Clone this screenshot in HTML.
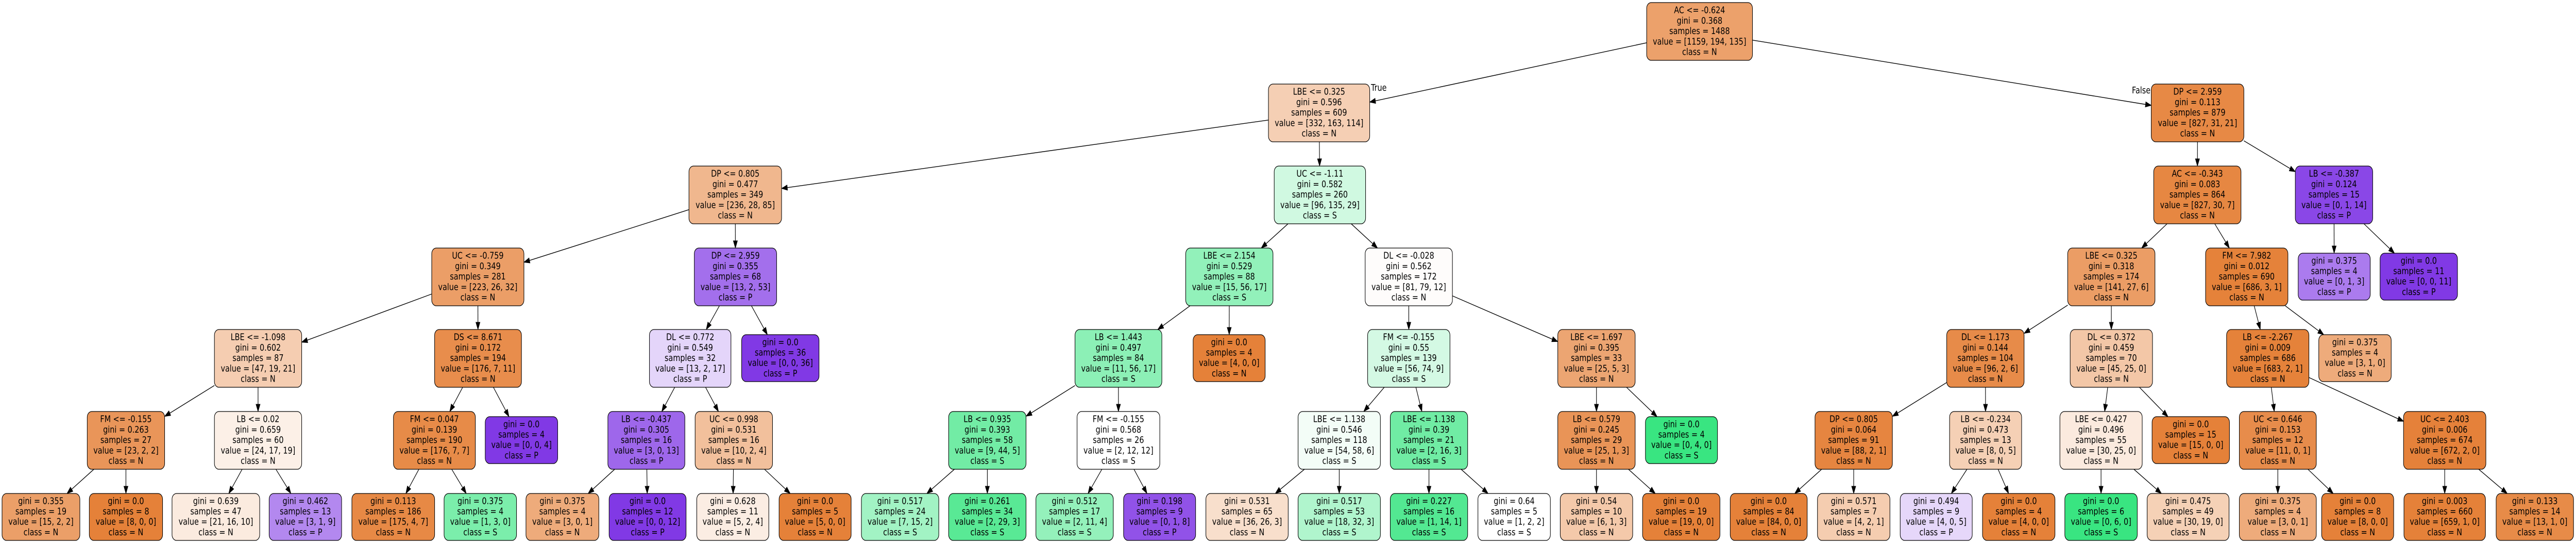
<!DOCTYPE html>
<html><head><meta charset="utf-8"><style>
html,body{margin:0;padding:0;background:#fff;width:100vw;height:100vh;overflow:hidden}
svg{display:block;width:100vw;height:100vh}
text{font-family:"DejaVu Sans","Liberation Sans",sans-serif;font-size:18px;fill:#000}
</style></head><body>
<svg id="s" xmlns="http://www.w3.org/2000/svg" viewBox="0 0 6259 1053" preserveAspectRatio="none">
<text x="3331" y="176">True</text>
<text x="5180" y="181">False</text>
</svg>
<script>
const N = [
['r',null,4001,4258,0,'AC <= -0.624','0.368',1488,[1159,194,135]],
['A','r',3082,3328,1,'LBE <= 0.325','0.596',609,[332,163,114]],
['B','r',5227,5452,1,'DP <= 2.959','0.113',879,[827,31,21]],
['A1','A',1674,1899,2,'DP <= 0.805','0.477',349,[236,28,85]],
['A2','A',3096,3318,2,'UC <= -1.11','0.582',260,[96,135,29]],
['A1a','A1',1049,1273,3,'UC <= -0.759','0.349',281,[223,26,32]],
['A1b','A1',1687,1887,3,'DP <= 2.959','0.355',68,[13,2,53]],
['c1','A1a',521,733,4,'LBE <= -1.098','0.602',87,[47,19,21]],
['c2','A1a',1056,1267,4,'DS <= 8.671','0.172',194,[176,7,11]],
['d1','c1',212,400,5,'FM <= -0.155','0.263',27,[23,2,2]],
['d2','c1',521,733,5,'LB <= 0.02','0.659',60,[24,17,19]],
['l1','d1',5,194,6,null,'0.355',19,[15,2,2]],
['l2','d1',217,395,6,null,'0.0',8,[8,0,0]],
['l3','d2',418,631,6,null,'0.639',47,[21,16,10]],
['l4','d2',654,830,6,null,'0.462',13,[3,1,9]],
['d3','c2',956,1155,5,'FM <= 0.047','0.139',190,[176,7,7]],
['l5','c2',1179,1355,5,null,'0.0',4,[0,0,4]],
['l6','d3',855,1056,6,null,'0.113',186,[175,4,7]],
['l7','d3',1079,1255,6,null,'0.375',4,[1,3,0]],
['c3','A1b',1578,1776,4,'DL <= 0.772','0.549',32,[13,2,17]],
['l8','A1b',1802,1990,4,null,'0.0',36,[0,0,36]],
['d4','c3',1477,1664,5,'LB <= -0.437','0.305',16,[3,0,13]],
['d5','c3',1689,1877,5,'UC <= 0.998','0.531',16,[10,2,4]],
['l9','d4',1278,1455,6,null,'0.375',4,[3,0,1]],
['l10','d4',1480,1667,6,null,'0.0',12,[0,0,12]],
['l11','d5',1693,1868,6,null,'0.628',11,[5,2,4]],
['l12','d5',1893,2068,6,null,'0.0',5,[5,0,0]],
['e1','A2',2881,3093,3,'LBE <= 2.154','0.529',88,[15,56,17]],
['e2','A2',3317,3529,3,'DL <= -0.028','0.562',172,[81,79,12]],
['f1','e1',2612,2823,4,'LB <= 1.443','0.497',84,[11,56,17]],
['l13','e1',2899,3074,4,null,'0.0',4,[4,0,0]],
['g1','f1',2305,2493,5,'LB <= 0.935','0.393',58,[9,44,5]],
['g2','f1',2617,2818,5,'FM <= -0.155','0.568',26,[2,12,12]],
['l14','g1',2093,2281,6,null,'0.517',24,[7,15,2]],
['l15','g1',2305,2493,6,null,'0.261',34,[2,29,3]],
['l16','g2',2517,2705,6,null,'0.512',17,[2,11,4]],
['l17','g2',2730,2905,6,null,'0.198',9,[0,1,8]],
['f2','e2',3323,3523,4,'FM <= -0.155','0.55',139,[56,74,9]],
['f3','e2',3785,3973,4,'LBE <= 1.697','0.395',33,[25,5,3]],
['g3','f2',3154,3354,5,'LBE <= 1.138','0.546',118,[54,58,6]],
['g4','f2',3378,3566,5,'LBE <= 1.138','0.39',21,[2,16,3]],
['l18','g3',2930,3130,6,null,'0.531',65,[36,26,3]],
['l19','g3',3154,3354,6,null,'0.517',53,[18,32,3]],
['l20','g4',3378,3566,6,null,'0.227',16,[1,14,1]],
['l21','g4',3591,3767,6,null,'0.64',5,[1,2,2]],
['g5','f3',3785,3973,5,'LB <= 0.579','0.245',29,[25,1,3]],
['l22','f3',3998,4173,5,null,'0.0',4,[0,4,0]],
['l23','g5',3791,3967,6,null,'0.54',10,[6,1,3]],
['l24','g5',3991,4179,6,null,'0.0',19,[19,0,0]],
['h1','B',5233,5445,2,'AC <= -0.343','0.083',864,[827,30,7]],
['h2','B',5577,5765,2,'LB <= -0.387','0.124',15,[0,1,14]],
['l25','h2',5584,5759,3,null,'0.375',4,[0,1,3]],
['l26','h2',5783,5971,3,null,'0.0',11,[0,0,11]],
['i1','h1',5024,5236,3,'LBE <= 0.325','0.318',174,[141,27,6]],
['i2','h1',5359,5559,3,'FM <= 7.982','0.012',690,[686,3,1]],
['j1','i1',4730,4918,4,'DL <= 1.173','0.144',104,[96,2,6]],
['j2','i1',5030,5230,4,'DL <= 0.372','0.459',70,[45,25,0]],
['j3','i2',5410,5610,4,'LB <= -2.267','0.009',686,[683,2,1]],
['l27','i2',5634,5810,4,null,'0.375',4,[3,1,0]],
['k1','j1',4410,4598,5,'DP <= 0.805','0.064',91,[88,2,1]],
['k2','j1',4737,4912,5,'LB <= -0.234','0.473',13,[8,0,5]],
['k3','j2',5005,5205,5,'LBE <= 0.427','0.496',55,[30,25,0]],
['l28','j2',5229,5417,5,null,'0.0',15,[15,0,0]],
['k4','j3',5441,5628,5,'UC <= 0.646','0.153',12,[11,0,1]],
['k5','j3',5840,6040,5,'UC <= 2.403','0.006',674,[672,2,0]],
['m1','k1',4204,4391,6,null,'0.0',84,[84,0,0]],
['m2','k1',4416,4592,6,null,'0.571',7,[4,2,1]],
['m3','k2',4617,4792,6,null,'0.494',9,[4,0,5]],
['m4','k2',4817,4993,6,null,'0.0',4,[4,0,0]],
['m5','k3',5017,5193,6,null,'0.0',6,[0,6,0]],
['m6','k3',5217,5416,6,null,'0.475',49,[30,19,0]],
['m7','k4',5441,5628,6,null,'0.375',4,[3,0,1]],
['m8','k4',5641,5816,6,null,'0.0',8,[8,0,0]],
['m9','k5',5841,6039,6,null,'0.003',660,[659,1,0]],
['m10','k5',6065,6253,6,null,'0.133',14,[13,1,0]]
];
const TOPS=[5,163,322,481,639,798,957];
const COLS=[[229,129,57],[57,229,129],[129,57,229]];
const CLS=['N','S','P'];
const NS='http://www.w3.org/2000/svg';
const svg=document.getElementById('s');
const edgesG=document.createElementNS(NS,'g');
const nodesG=document.createElementNS(NS,'g');
svg.insertBefore(edgesG,svg.firstChild);
svg.appendChild(nodesG);
const box={};
function el(t,a,p){const e=document.createElementNS(NS,t);for(const k in a)e.setAttribute(k,a[k]);p.appendChild(e);return e;}
N.forEach(n=>{
  const [id,par,l,r,lv,split,gini,samp,val]=n;
  const leaf=!split;
  const h=leaf?91:112;
  let top=TOPS[lv];
  if(leaf&&lv<6) top+=10;
  box[id]={l,r,t:top,b:top+h,cx:(l+r)/2,cy:top+h/2};
  const tot=val.reduce((a,b)=>a+b,0);
  const idx=val.indexOf(Math.max(...val));
  const f=val.map(v=>v/tot).slice().sort((a,b)=>b-a);
  const alpha=f[1]>=1?0:(f[0]-f[1])/(1-f[1]);
  const c=COLS[idx].map(x=>Math.round(alpha*x+(1-alpha)*255));
  el('rect',{x:l,y:top,width:r-l,height:h,rx:11,ry:11,fill:`rgb(${c[0]},${c[1]},${c[2]})`,stroke:'#000','stroke-width':1.3},nodesG);
  const lines=[];
  if(split) lines.push(split);
  lines.push('gini = '+gini,'samples = '+samp,'value = ['+val.join(', ')+']','class = '+CLS[idx]);
  const n_=lines.length;
  lines.forEach((s,i)=>{
    const y=top+h/2+(i-(n_-1)/2)*20.2-1;
    const t=el('text',{x:(l+r)/2,y:y,'text-anchor':'middle','dominant-baseline':'central'},nodesG);
    t.textContent=s;
  });
});
function clip(b,x0,y0,dx,dy){
  const hw=(b.r-b.l)/2,hh=(b.b-b.t)/2;
  let t=Infinity;
  if(dx!==0) t=Math.min(t,hw/Math.abs(dx));
  if(dy!==0) t=Math.min(t,hh/Math.abs(dy));
  return [x0+dx*t,y0+dy*t];
}
N.forEach(n=>{
  const par=n[1]; if(!par) return;
  const p=box[par],c=box[n[0]];
  const dx=c.cx-p.cx,dy=c.cy-p.cy;
  const s=clip(p,p.cx,p.cy,dx,dy);
  const e=clip(c,c.cx,c.cy,-dx,-dy);
  const L=Math.hypot(e[0]-s[0],e[1]-s[1]);
  const ux=(e[0]-s[0])/L,uy=(e[1]-s[1])/L;
  const al=14,aw=5;
  const bx=e[0]-ux*al,by=e[1]-uy*al;
  el('line',{x1:s[0],y1:s[1],x2:bx,y2:by,stroke:'#000','stroke-width':1.4},edgesG);
  el('polygon',{points:`${e[0]},${e[1]} ${bx-uy*aw},${by+ux*aw} ${bx+uy*aw},${by-ux*aw}`,fill:'#000',stroke:'#000'},edgesG);
});
</script>
</body></html>
